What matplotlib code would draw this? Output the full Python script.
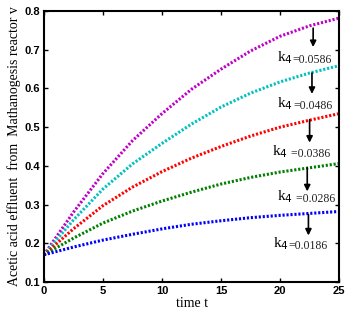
import matplotlib
matplotlib.use('Agg')
import matplotlib.pyplot as plt

# values
t = [0, 2.5, 5, 7.5, 10, 12.5, 15, 17.5, 20, 22.5, 25]
v_0586 = [0.17, 0.280, 0.380, 0.465, 0.535, 0.598, 0.650, 0.697, 0.735, 0.762, 0.782]
v_0486 = [0.17, 0.260, 0.340, 0.405, 0.458, 0.508, 0.552, 0.588, 0.617, 0.640, 0.659]
v_0386 = [0.17, 0.237, 0.297, 0.345, 0.385, 0.420, 0.450, 0.477, 0.500, 0.518, 0.535]
v_0286 = [0.17, 0.213, 0.252, 0.283, 0.309, 0.332, 0.353, 0.370, 0.384, 0.395, 0.406]
v_0186 = [0.17, 0.190, 0.208, 0.223, 0.237, 0.249, 0.258, 0.266, 0.272, 0.277, 0.282]

k4_labels = ['0.0586', '0.0486', '0.0386', '0.0286', '0.0186']
colors = ['#c000c8', '#00c0c0', '#ff0000', '#008000', '#0000ff']

# annotation spots (t, v) : arrow start, arrow end, label position
arrow_x = [22.8, 22.7, 22.5, 22.3, 22.4]
arrow_top = [0.756, 0.640, 0.519, 0.395, 0.274]
arrow_bot = [0.707, 0.586, 0.460, 0.334, 0.220]
label_x = [19.7, 19.75, 19.3, 19.75, 19.4]
label_y = [0.670, 0.552, 0.426, 0.310, 0.189]
label_sep = ['=', '=', ' =', ' =', '=']

fig = plt.figure(figsize=(3.54, 3.27), dpi=100)
ax = fig.add_axes([0.124, 0.138, 0.834, 0.828])

series = [v_0586, v_0486, v_0386, v_0286, v_0186]
for vals, c in zip(series, colors):
    ax.plot(t, vals, color=c, lw=2.2, linestyle=(0, (0.7, 0.6)))

for i in range(len(series)):
    ax.annotate('', xy=(arrow_x[i], arrow_bot[i]), xytext=(arrow_x[i], arrow_top[i]),
                arrowprops=dict(arrowstyle='-|>', color='black', lw=1.2,
                                mutation_scale=9, shrinkA=0, shrinkB=0))
    k = ax.text(label_x[i], label_y[i], 'k$_4$', family='Liberation Serif',
                fontsize=11, va='baseline', ha='left')
    ax.annotate(label_sep[i] + k4_labels[i], xy=(1, 0), xycoords=k,
                va='bottom', ha='left', family='Liberation Serif',
                fontsize=8.5, color='#222222')

ax.set_xlim(0, 25)
ax.set_ylim(0.1, 0.8)
ax.set_xticks([0, 5, 10, 15, 20, 25])
ax.set_yticks([0.1, 0.2, 0.3, 0.4, 0.5, 0.6, 0.7, 0.8])
ax.set_yticklabels(['0.1', '0.2', '0.3', '0.4', '0.5', '0.6', '0.7', '0.8'])
ax.tick_params(direction='in', top=True, right=True, length=3, width=1, pad=3)
for lab in ax.get_xticklabels() + ax.get_yticklabels():
    lab.set_fontweight('bold')
    lab.set_fontsize(8)
    lab.set_family('Liberation Sans')
for s in ax.spines.values():
    s.set_linewidth(1.5)

ax.set_xlabel('time t', family='Liberation Serif', fontsize=10, labelpad=1)
ax.set_ylabel('Acetic acid effluent  from  Mathanogesis reactor v',
              family='Liberation Serif', fontsize=10, labelpad=2)

fig.savefig('out.png', dpi=100)
